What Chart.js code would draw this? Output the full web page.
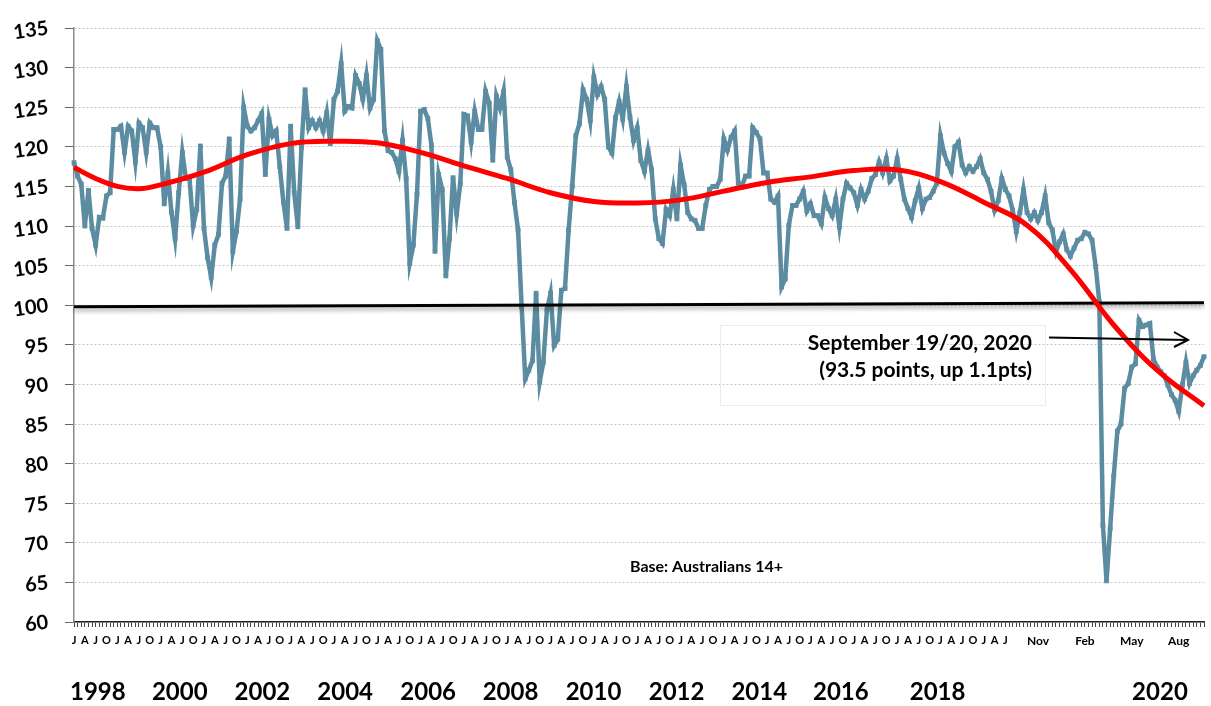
<!DOCTYPE html>
<html>
<head>
<meta charset="utf-8">
<title>Consumer Confidence</title>
<script src="https://cdn.jsdelivr.net/npm/chart.js@4.4.0/dist/chart.umd.min.js"></script>
<style>
  body { margin: 0; background: #fff; }
  canvas { display: block; }
</style>
</head>
<body>
<canvas id="confidenceChart" width="1211" height="706"></canvas>
<script>
// monthly readings, Jan 1998 .. Aug 2019
const monthlyValues = [
  118, 116.3, 115.3, 110, 114.5, 109.7, 107.6, 111.1, 111, 113.8, 114.2, 122.2,        // 1998
  122.2, 122.6, 119.3, 122.6, 122, 118.1, 123, 122.4, 119.3, 123, 122.4, 122.4,       // 1999
  120, 112.8, 116.7, 111.7, 108.4, 114.2, 119.3, 116, 116, 110, 112.1, 120.1,         // 2000
  109.7, 106, 103.5, 107.6, 108.9, 115.4, 116.3, 121, 106.8, 109.3, 113.4, 125,       // 2001
  122.6, 122, 122.4, 123.3, 124.2, 116.5, 123.5, 121.4, 122, 117.5, 113, 109.7,       // 2002
  122.6, 114.2, 109.9, 119.9, 127.2, 122.4, 123.3, 122.4, 123.3, 122, 124.3, 120.4,   // 2003
  126, 127, 130.5, 124.5, 125.1, 124.9, 129, 128, 126, 129, 124.9, 126,               // 2004
  133.4, 132.3, 122, 119.5, 119.3, 118.5, 116.9, 120.8, 116, 105.3, 107.6, 114,       // 2005
  124.5, 124.7, 123.6, 120.2, 106.8, 116.5, 114.6, 103.7, 108.4, 116.1, 111.5, 115.4, // 2006
  124.1, 123.9, 120.6, 124.5, 122.2, 122.2, 127, 125.5, 118.3, 126.4, 124.9, 127,     // 2007
  118.7, 117.1, 113, 109.5, 99.8, 90.7, 91.8, 93, 101.5, 90.3, 92.8, 99.4,            // 2008
  101.5, 94.9, 95.7, 101.9, 102.1, 109.5, 115, 121.4, 122.9, 127.2, 126, 123.3,       // 2009
  128.8, 126.6, 127.6, 126, 120, 119.2, 123.7, 125.7, 123.5, 127.6, 123.7, 120.8,     // 2010
  122.4, 118.3, 116.9, 119.6, 117.1, 110.9, 108.4, 107.8, 112.1, 111.3, 114.6, 110.9, // 2011
  117.7, 115.2, 111.7, 110.9, 110.7, 109.7, 109.7, 112.6, 114.6, 115, 115, 115.9,     // 2012
  121, 119.6, 121.2, 122, 115.4, 115, 116.3, 116.3, 122.4, 121.8, 121, 116.7,         // 2013
  116.7, 113.4, 113, 113.8, 102.3, 103.3, 110.1, 112.6, 112.6, 113.4, 114.4, 111.9,   // 2014
  112.8, 111.3, 111.3, 110.3, 113.6, 112.2, 111.3, 113.4, 109.9, 113.4, 115.4, 114.8, // 2015
  114.2, 112.6, 114.6, 113.4, 114.4, 116, 116.5, 118.1, 116.7, 118.5, 115.7, 116.3,   // 2016
  118.5, 115.9, 113.4, 112.2, 111.1, 113.2, 114.8, 112.2, 113.4, 113.6, 114.4, 115.4, // 2017
  121.4, 119.2, 117.9, 116.9, 120, 120.6, 117.7, 116.7, 117.5, 116.9, 117.5, 118.5,   // 2018
  116.7, 115.9, 114.4, 112, 113.2, 116, 114.6, 113.8                                  // 2019
];

// weekly readings, Sep 14/15 2019 .. Sep 19/20 2020
const weeklyValues = [
  112, 109.3, 111.7, 114.6, 111.7, 110.9, 111.7, 110.7, 111.7, 113.8, 110.4, 109.5,
  106.8, 108, 109, 107, 106.2, 107.2, 108.2, 108.4, 109.2, 109, 108.2, 104.9,
  100.4, 72.2, 65.2, 71.8, 78.4, 84.1, 85, 89.5, 90.1, 92.2, 92.6, 98.1,
  97.3, 97.5, 97.7, 93.2, 92.2, 91.6, 91.1, 89.9, 88.7, 88, 86.6, 89.9,
  92.8, 90.1, 91.1, 91.8, 92.4, 93.5
];

// trend curve, read at point positions (category index)
const trendAt = [0, 6, 12, 18, 24, 36, 48, 60, 72, 84, 96, 108, 120, 132, 144, 156, 168,
                 180, 192, 204, 216, 228, 240, 252, 264, 276, 288, 300, 313];
const trendValues = [117.4, 116, 115, 114.7, 115.2, 116.8, 119, 120.4, 120.7, 120.5, 119.3, 117.6,
                     116, 114.2, 113.1, 112.9, 113.3, 114.4, 115.5, 116.2, 117, 117.1, 115.6, 113,
                     110.1, 104.5, 97.5, 91.8, 87.3];

// the 100 reference line, first and last point
const baseValues = [99.8, 100.3];

const quarterLetters = { 0: 'J', 3: 'A', 6: 'J', 9: 'O' };
const weekMonthNames = { 10: 'Nov', 1: 'Feb', 4: 'May', 7: 'Aug' };
const yearLabels = ['1998', '2000', '2002', '2004', '2006', '2008', '2010', '2012', '2014', '2016', '2018', '2020'];
const yearLabelAt = [6.6, 29.3, 52.2, 75.1, 98.1, 120.9, 143.9, 166.9, 189.8, 212.4, 239.2, 300.8];

// categories: months then weeks
const categories = [];
for (let i = 0; i < monthlyValues.length; i++) {
    const d = new Date(Date.UTC(1998, i, 1));
    categories.push(d.toISOString().slice(0, 7));
}
for (let k = 0; k < weeklyValues.length; k++) {
    const d = new Date(Date.UTC(2019, 8, 14 + 7 * k));
    categories.push(d.toISOString().slice(0, 10));
}
const lastIndex = categories.length - 1;

function tickLabel(cat) {
    const month = parseInt(cat.slice(5, 7), 10) - 1;
    if (cat.length === 7) return quarterLetters[month] || '';
    const day = parseInt(cat.slice(8, 10), 10);
    return day <= 7 && weekMonthNames[month] ? weekMonthNames[month] : '';
}

// sparse series on the category axis (gaps are spanned)
const trendData = categories.map(() => null);
trendAt.forEach((i, k) => { trendData[i] = trendValues[k]; });
const baseData = categories.map(() => null);
baseData[0] = baseValues[0];
baseData[lastIndex] = baseValues[1];

const FONT = 'Lato, "Open Sans", sans-serif';

const extras = {
    id: 'extras',
    beforeDatasetDraw(chart, args) {
        if (args.index === 1) {
            const ctx = chart.ctx;
            ctx.save();
            ctx.shadowColor = 'rgba(0,0,0,0.35)';
            ctx.shadowBlur = 4;
            ctx.shadowOffsetY = 3;
        }
    },
    afterDatasetDraw(chart, args) {
        if (args.index === 1) chart.ctx.restore();
    },
    afterDraw(chart) {
        const ctx = chart.ctx;
        const xs = chart.scales.x;
        const ys = chart.scales.y;
        ctx.save();
        ctx.fillStyle = '#000';

        // tilted value labels of the y axis
        ctx.font = 'bold 20px ' + FONT;
        ctx.textAlign = 'right';
        ctx.textBaseline = 'middle';
        ys.ticks.forEach(t => {
            ctx.save();
            ctx.translate(ys.right - 26, ys.getPixelForValue(t.value));
            ctx.rotate(-8 * Math.PI / 180);
            ctx.fillText(String(t.value), 0, 0);
            ctx.restore();
        });

        // years under the axis
        ctx.font = 'bold 24px ' + FONT;
        ctx.textAlign = 'center';
        yearLabels.forEach((t, k) => ctx.fillText(t, xs.getPixelForValue(yearLabelAt[k]), 692));

        // note box
        ctx.strokeStyle = '#e4edf6';
        ctx.lineWidth = 1;
        ctx.strokeRect(720.5, 325.5, 325, 80);
        ctx.font = 'bold 21px ' + FONT;
        ctx.textAlign = 'right';
        ctx.fillText('September 19/20, 2020', 1032, 343);
        ctx.fillText('(93.5 points, up 1.1pts)', 1032, 370);

        // arrow
        ctx.strokeStyle = '#000';
        ctx.lineWidth = 2;
        ctx.beginPath();
        ctx.moveTo(1049, 337.5);
        ctx.lineTo(1188, 340);
        ctx.moveTo(1174, 332);
        ctx.lineTo(1188, 340);
        ctx.lineTo(1174, 347);
        ctx.stroke();

        ctx.font = 'bold 16px ' + FONT;
        ctx.textAlign = 'left';
        ctx.fillText('Base: Australians 14+', 630, 567);
        ctx.restore();
    }
};

const chartCtx = document.getElementById('confidenceChart').getContext('2d');
const confidenceChart = new Chart(chartCtx, {
    type: 'line',
    data: {
        labels: categories,
        datasets: [
            {
                label: 'Trend',
                data: trendData,
                spanGaps: true,
                borderColor: '#ff0000',
                borderWidth: 5,
                pointRadius: 0,
                tension: 0.4,
                fill: false
            },
            {
                label: 'Base',
                data: baseData,
                spanGaps: true,
                borderColor: '#000',
                borderWidth: 3,
                pointRadius: 0,
                fill: false
            },
            {
                label: 'Consumer Confidence',
                data: monthlyValues.concat(weeklyValues),
                borderColor: '#5b8ca1',
                backgroundColor: '#5b8ca1',
                borderWidth: 4.5,
                pointStyle: 'rect',
                pointRadius: 3.4,
                pointBorderWidth: 0,
                tension: 0,
                fill: false
            }
        ]
    },
    options: {
        responsive: false,
        animation: false,
        devicePixelRatio: 1,
        layout: { padding: { top: 15, right: 3, left: 0, bottom: 0 } },
        plugins: {
            legend: { display: false },
            tooltip: { enabled: false }
        },
        scales: {
            x: {
                type: 'category',
                offset: false,
                afterFit: scale => { scale.height = 84; },
                grid: {
                    drawOnChartArea: false,
                    drawTicks: true,
                    tickLength: 5,
                    color: '#444',
                    lineWidth: 1
                },
                border: { display: true, color: '#222', width: 1.5 },
                ticks: {
                    autoSkip: false,
                    maxRotation: 0,
                    minRotation: 0,
                    padding: 7,
                    color: '#000',
                    font: ctx => ctx.index >= monthlyValues.length
                        ? { family: FONT, size: 12, weight: 'bold' }
                        : { family: FONT, size: 11, weight: 'bold' },
                    callback: function (value) {
                        return tickLabel(categories[value]);
                    }
                }
            },
            y: {
                min: 60,
                max: 135,
                afterFit: scale => { scale.width = 74; },
                grid: {
                    color: '#c9c9c9',
                    lineWidth: 1,
                    tickLength: 9,
                    tickColor: '#666',
                    tickBorderDash: []
                },
                border: { display: true, color: '#8a8a8a', width: 1.5, dash: [2, 2] },
                ticks: {
                    stepSize: 5,
                    padding: 16,
                    color: 'rgba(0,0,0,0)',
                    font: { family: FONT, size: 20, weight: 'bold' }
                }
            }
        }
    },
    plugins: [extras]
});
</script>
</body>
</html>
